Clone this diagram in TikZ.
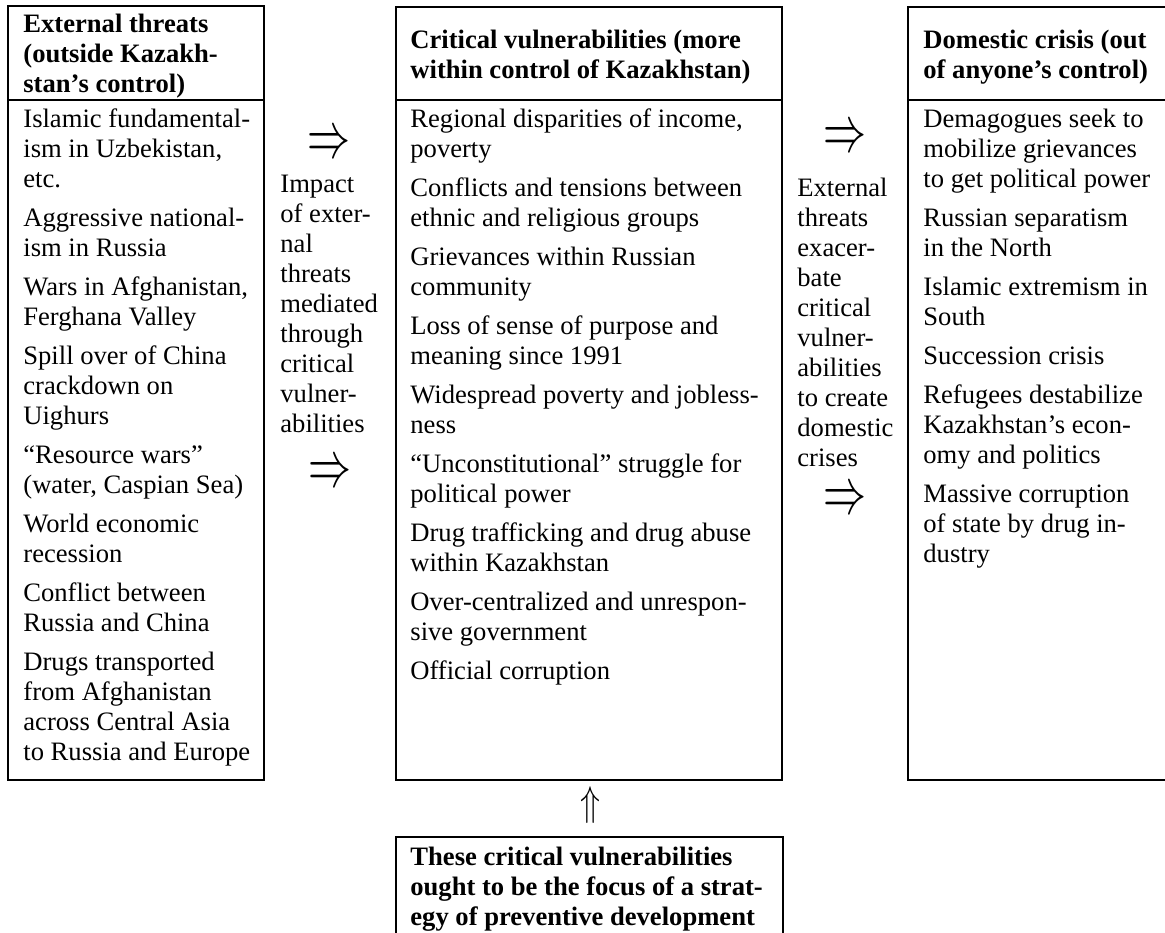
\documentclass[tikz,border=0pt]{standalone}
\usepackage{fontspec}
\setmainfont{Liberation Serif}
\usepackage{graphicx}
\newcommand\colbody[1]{\begin{tabular}[t]{@{}l@{}}#1\end{tabular}}
\tikzset{
  box/.style={draw, line width=1pt},
  txt/.style={anchor=base west, inner sep=0pt, font=\fontsize{13.3}{15}\selectfont},
  hd/.style={anchor=base west, inner sep=0pt, font=\fontsize{13.3}{15}\selectfont\bfseries},
  glyph/.style={inner sep=0pt},
}
\begin{document}
\begin{tikzpicture}[x=0.5pt,y=-0.5pt]
\useasboundingbox (0,0) rectangle (1165,932);
\clip (0,0) rectangle (1165,932);

% boxes
\draw[box] (8,6) rectangle (264,780);
\draw[box] (8,100) -- (264,100);
\draw[box] (396,7) rectangle (782,780);
\draw[box] (396,100) -- (782,100);
\draw[box] (908,7) rectangle (1200,780);
\draw[box] (908,100) -- (1200,100);
\draw[box] (396,837) rectangle (783,960);

% headers
\node[hd] (h1) at (23,32) {\colbody{External threats\\(outside Kazakh-\\stan’s control)}};
\node[hd] (h2) at (410,48) {\colbody{Critical vulnerabilities (more\\within control of Kazakhstan)}};
\node[hd] (h3) at (923,48) {\colbody{Domestic crisis (out\\of anyone’s control)}};

% bodies
\node[txt] (b1) at (23,127) {\colbody{Islamic fundamental-\\ism in Uzbekistan,\\etc.\\[4.5pt]
Aggressive national-\\ism in Russia\\[4.5pt]
Wars in Afghanistan,\\Ferghana Valley\\[4.5pt]
Spill over of China\\crackdown on\\Uighurs\\[4.5pt]
“Resource wars”\\(water, Caspian Sea)\\[4.5pt]
World economic\\recession\\[4.5pt]
Conflict between\\Russia and China\\[4.5pt]
Drugs transported\\from Afghanistan\\across Central Asia\\to Russia and Europe}};

\node[txt] (b2) at (410,127) {\colbody{Regional disparities of income,\\poverty\\[4.5pt]
Conflicts and tensions between\\ethnic and religious groups\\[4.5pt]
Grievances within Russian\\community\\[4.5pt]
Loss of sense of purpose and\\meaning since 1991\\[4.5pt]
Widespread poverty and jobless-\\ness\\[4.5pt]
“Unconstitutional” struggle for\\political power\\[4.5pt]
Drug trafficking and drug abuse\\within Kazakhstan\\[4.5pt]
Over-centralized and unrespon-\\sive government\\[4.5pt]
Official corruption}};

\node[txt] (b3) at (923,127) {\colbody{Demagogues seek to\\mobilize grievances\\to get political power\\[4.5pt]
Russian separatism\\in the North\\[4.5pt]
Islamic extremism in\\South\\[4.5pt]
Succession crisis\\[4.5pt]
Refugees destabilize\\Kazakhstan’s econ-\\omy and politics\\[4.5pt]
Massive corruption\\of state by drug in-\\dustry}};

% gap texts
\node[txt] (g1) at (280,192) {\colbody{Impact\\of exter-\\nal\\threats\\mediated\\through\\critical\\vulner-\\abilities}};
\node[txt] (g2) at (797,196) {\colbody{External\\threats\\exacer-\\bate\\critical\\vulner-\\abilities\\to create\\domestic\\crises}};

% arrows (glyphs)
\node[glyph] (a1) at (329,145) {\resizebox*{21.5pt}{12pt}{$\Rightarrow$}};
\node[glyph] (a2) at (330,474) {\resizebox*{21.5pt}{12pt}{$\Rightarrow$}};
\node[glyph] (a3) at (845,139) {\resizebox*{21.5pt}{12pt}{$\Rightarrow$}};
\node[glyph] (a4) at (845,501) {\resizebox*{21.5pt}{12pt}{$\Rightarrow$}};
\node[glyph] (a5) at (590,805) {\resizebox*{10pt}{18.5pt}{$\Uparrow$}};

% bottom box text
\node[hd] (f1) at (410,865) {\colbody{These critical vulnerabilities\\ought to be the focus of a strat-\\egy of preventive development}};
\end{tikzpicture}
\end{document}
